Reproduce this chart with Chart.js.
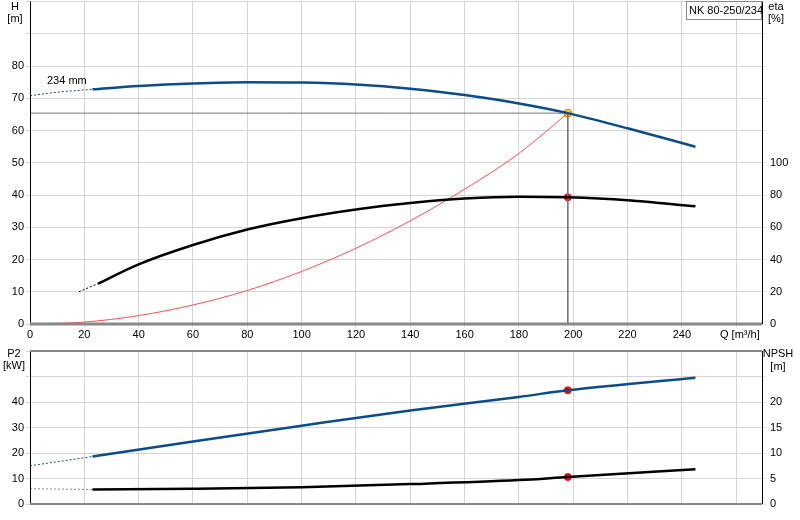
<!DOCTYPE html>
<html><head><meta charset="utf-8">
<script src="https://cdn.jsdelivr.net/npm/chart.js@4.4.0/dist/chart.umd.min.js"></script>
<style>
body{margin:0;background:#fff;width:800px;height:520px;overflow:hidden;font-family:"Liberation Sans",Arial,sans-serif}
#a{position:absolute;left:0;top:-9px;width:800px;height:349px}
#b{position:absolute;left:0;top:340px;width:800px;height:180px}
</style></head><body>
<div id="a"><canvas id="c1"></canvas></div>
<div id="b"><canvas id="c2"></canvas></div>
<script>
// Top panel data
const hDashQ=[0,10,23], hDashV=[70.8,71.9,72.8];
const hQ=[23,40,60,80,100,120,140,160,180,198,220,245];
const hV=[72.8,73.8,74.6,75,74.9,74.3,73,71,68.4,65.4,60.7,55];
const etaDashQ=[18,25], etaDashV=[20,25];
const etaQ=[25,40,60,80,100,120,140,160,180,198,220,245];
const etaV=[25,37,49,58.6,65.6,71,75,77.8,79,78.6,76.8,73];
const sysQ=[0,20,40,60,80,100,120,140,160,180,198];
const sysV=[0,0.6,2.6,5.9,10.4,16.3,23.5,32,41.8,52.9,65.4];
const dutyQ=198, dutyH=65.4, dutyEta=78.6;
// Bottom panel data
const p2DashQ=[0,23], p2DashV=[15,18.6];
const p2Q=[23,60,100,140,180,198,245];
const p2V=[18.6,24.5,30.7,36.7,42,44.6,49.5];
const npDashQ=[0,23], npDashV=[3.0,2.85];
const npQ=[23,60,100,140,180,198,245];
const npV=[2.85,3.0,3.3,3.9,4.7,5.3,6.8];
const dutyP2=44.6, dutyNp=5.3;
const qTicks=[0,20,40,60,80,100,120,140,160,180,200,220,240];

const pts=(q,v)=>q.map((x,i)=>({x,y:v[i]}));
const F='"Liberation Sans", Arial, sans-serif';
Chart.defaults.font.family=F; Chart.defaults.font.size=11; Chart.defaults.color='#000';
Chart.defaults.animation=false;
function fitW(w){return s=>{s.width=w;};}
function fitH(h){return s=>{s.height=h;};}
const blue='#0b4c8c';
function line(data,color,w,axis,dash){return {data,borderColor:color,borderWidth:w,pointRadius:0,tension:0.4,cubicInterpolationMode:'monotone',yAxisID:axis,borderDash:dash||[],fill:false};}

const O=9;
const textPlug1={id:'t1',afterDraw(c){const x=c.ctx,a=c.chartArea;x.save();x.font='11px '+F;x.fillStyle='#000';x.textAlign='center';
 x.fillText('H',15,10+O);x.fillText('[m]',15,22+O);x.fillText('eta',776,10+O);x.fillText('[%]',776,22+O);
 x.textAlign='left';x.fillText('234 mm',47,84+O);
 x.fillText('Q [m³/h]',720,338+O);
 x.fillStyle='#fff';x.fillRect(686,1+O,76,19);x.strokeStyle='#888';x.lineWidth=1;x.strokeRect(686.5,1.5+O,75,18);
 x.fillStyle='#000';x.fillText('NK 80-250/234',689,14+O);
 x.strokeStyle='#000';x.beginPath();x.moveTo(a.left+0.5,a.top);x.lineTo(a.left+0.5,a.bottom);x.moveTo(a.right+0.5,a.top);x.lineTo(a.right+0.5,a.bottom);x.stroke();
 x.strokeStyle='#888';x.lineWidth=3;x.beginPath();x.moveTo(a.left,a.bottom);x.lineTo(a.right,a.bottom);x.stroke();
 x.restore();}};
const textPlug2={id:'t2',afterDraw(c){const x=c.ctx,a=c.chartArea;x.save();x.font='11px '+F;x.fillStyle='#000';x.textAlign='center';
 x.fillText('P2',14,17);x.fillText('[kW]',14,29);x.fillText('NPSH',778,17);x.fillText('[m]',778,30);
 x.strokeStyle='#000';x.beginPath();x.moveTo(a.left+0.5,a.top);x.lineTo(a.left+0.5,a.bottom);x.moveTo(a.right+0.5,a.top);x.lineTo(a.right+0.5,a.bottom);x.stroke();
 x.strokeStyle='#888';x.lineWidth=2;x.beginPath();x.moveTo(a.left,a.top);x.lineTo(a.right,a.top);x.moveTo(a.left,a.bottom);x.lineTo(a.right,a.bottom);x.stroke();
 x.restore();}};

const xScale=(showLabels,h)=>({type:'linear',min:0,max:269.5,afterFit:fitH(h),
 afterBuildTicks:s=>{s.ticks=qTicks.concat([260]).map(v=>({value:v}));},
 ticks:{display:showLabels,padding:1,callback:v=>v===260?'':v,maxRotation:0,autoSkip:false},
 grid:{color:'#d4d4d4',tickLength:3,drawTicks:showLabels},border:{display:false}});

new Chart(document.getElementById('c1'),{type:'line',
 data:{datasets:[
  line(pts(hDashQ,hDashV),blue,1,'y',[2,2]),
  line(pts(hQ,hV),blue,2.5,'y'),
  line(pts(etaDashQ,etaDashV),'#000',1,'y2',[2,2]),
  line(pts(etaQ,etaV),'#000',2.5,'y2'),
  line(pts(sysQ,sysV),'#ff5050',1,'y'),
  {data:[{x:0,y:dutyH},{x:dutyQ,y:dutyH},{x:dutyQ,y:0}],borderColor:'#777',borderWidth:1,pointRadius:0,tension:0,yAxisID:'y'},
  {data:[{x:dutyQ,y:dutyH}],pointRadius:4,pointBackgroundColor:'#ffd000',pointBorderColor:'#e08000',showLine:false,yAxisID:'y'},
  {data:[{x:dutyQ,y:dutyEta}],pointRadius:3.5,pointBackgroundColor:'#ff0000',pointBorderColor:'#ff0000',showLine:false,yAxisID:'y2'}
 ]},
 options:{responsive:true,maintainAspectRatio:false,layout:{padding:{top:1}},
  plugins:{legend:{display:false},tooltip:{enabled:false}},
  scales:{x:xScale(true,16),
   y:{min:0,max:100,afterFit:fitW(30),ticks:{stepSize:10,padding:2,callback:v=>v<=80?v:''},grid:{color:'#d4d4d4',tickLength:4},border:{display:false}},
   y2:{position:'right',min:0,max:200,afterFit:fitW(38),ticks:{stepSize:20,padding:4,callback:v=>v<=100?v:''},grid:{drawOnChartArea:false,tickLength:4},border:{display:false}}}},
 plugins:[textPlug1]});

new Chart(document.getElementById('c2'),{type:'line',
 data:{datasets:[
  line(pts(p2DashQ,p2DashV),blue,1,'y',[2,2]),
  line(pts(p2Q,p2V),blue,2.5,'y'),
  line(pts(npDashQ,npDashV),'#888',1,'y2',[2,2]),
  line(pts(npQ,npV),'#000',2.5,'y2'),
  {data:[{x:dutyQ,y:dutyP2}],pointRadius:3.5,pointBackgroundColor:'#ff0000',pointBorderColor:'#ff0000',showLine:false,yAxisID:'y'},
  {data:[{x:dutyQ,y:dutyNp}],pointRadius:3.5,pointBackgroundColor:'#ff0000',pointBorderColor:'#ff0000',showLine:false,yAxisID:'y2'}
 ]},
 options:{responsive:true,maintainAspectRatio:false,layout:{padding:{top:11}},
  plugins:{legend:{display:false},tooltip:{enabled:false}},
  scales:{x:xScale(false,16),
   y:{min:0,max:60,afterFit:fitW(30),ticks:{stepSize:10,padding:2,callback:v=>v<=40?v:''},grid:{color:'#d4d4d4',tickLength:4},border:{display:false}},
   y2:{position:'right',min:0,max:30,afterFit:fitW(38),ticks:{stepSize:5,padding:4,callback:v=>v<=20?v:''},grid:{drawOnChartArea:false,tickLength:4},border:{display:false}}}},
 plugins:[textPlug2]});
</script></body></html>
